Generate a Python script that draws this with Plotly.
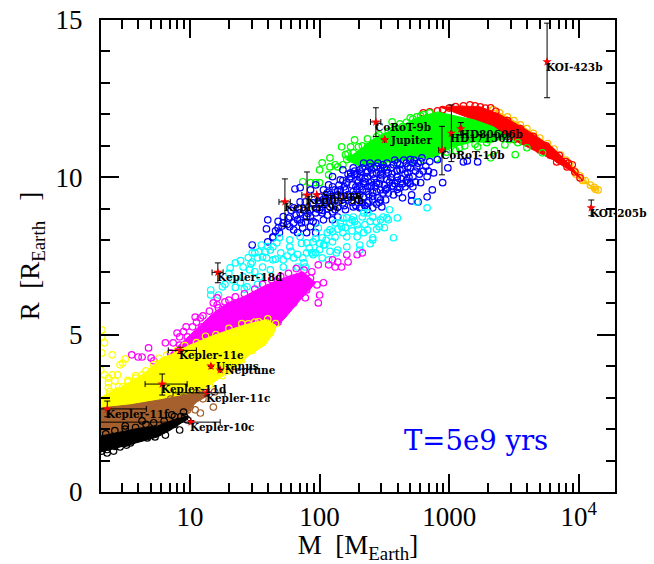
import plotly.graph_objects as go
import numpy as np

# Mass is read as log10(M / M_Earth); radius as R / R_Earth.
gold_core_lgM = [3.34,3.45,3.55,3.65,3.76,3.86,3.93,4.01,4.09,4.15,4.12,4.03,3.93,3.78]
gold_core_R = [12.15,11.92,11.67,11.40,11.07,10.71,10.4,10.05,9.75,9.6,9.6,9.9,10.25,10.7]
gold_lgM = [3.34,3.45,3.55,3.65,3.76,3.86,3.93,4.01,4.09,4.15,3.39,3.50,3.60,3.70,3.81,3.90,3.97,4.05,4.12,4.13,3.98,4.03]
gold_R = [12.15,11.92,11.67,11.40,11.07,10.71,10.4,10.05,9.75,9.6,12.05,11.8,11.55,11.25,10.9,10.55,10.2,9.9,9.68,9.62,10.1,9.9]

red_core_lgM = [2.93,3.08,3.24,3.39,3.60,3.80,3.93,4.03,3.96,3.80,3.60,3.39,3.19,3.03]
red_core_R = [12.21,12.27,12.24,12.0,11.5,10.95,10.4,9.9,10.15,10.56,10.97,11.41,11.83,12.08]
red_lgM = [2.80,2.85,2.91,2.95,3.11,3.24,3.60,3.83,3.91,3.97,4.01,3.95,3.39,3.51,3.70,3.16,3.32,3.30,3.35,3.45,3.50,3.57,3.65,3.72,3.78,3.85,3.90,3.0,3.05,3.20,3.28,3.36,3.45,3.55,3.65,3.75,3.85,3.92]
red_R = [12.05,12.08,12.11,12.15,12.27,12.24,11.13,10.49,10.33,10.17,9.98,10.40,11.57,11.35,10.87,12.30,12.21,11.55,11.4,11.3,11.2,11.15,11.05,10.9,10.7,10.55,10.5,12.2,12.25,12.27,12.2,12.1,11.8,11.55,11.3,11.0,10.7,10.45]

green_core_lgM = [2.20,2.31,2.44,2.62,2.75,2.91,3.08,3.19,3.34,3.45,3.32,3.19,3.03,2.88,2.68,2.47,2.31]
green_core_R = [10.56,10.87,11.29,11.61,11.89,12.08,11.92,11.83,11.61,11.29,11.10,11.13,10.97,10.65,10.56,10.46,10.33]
green_lgM = [1.87,1.93,1.97,2.0,2.02,2.0,2.07,2.08,2.14,2.17,2.24,2.26,2.30,2.37,2.37,2.44,2.56,2.57,2.64,2.70,2.75,2.80,3.22,3.32,3.43,3.53,3.51,3.60,3.72,3.29,3.08,2.21,2.34,2.27,2.20,2.12,2.08,
             2.18,2.22,2.25,2.30,2.33,2.40,2.46,2.50,2.53,2.60,2.62,2.67,2.72,2.78,2.85,2.40,2.50,2.60,2.70,2.80,2.90,2.98,3.05,3.12,3.2,3.3,3.35,3.40,3.47]
green_R = [9.86,9.83,9.83,9.83,10.46,10.24,10.08,10.33,10.33,10.97,10.97,10.78,10.97,11.22,10.97,11.29,11.76,11.51,11.61,11.89,11.92,11.99,10.97,10.62,11.03,11.10,10.72,10.94,10.78,11.10,10.94,10.56,10.65,11.19,10.72,10.40,10.62,
           10.4,10.75,10.6,10.5,11.0,11.0,11.35,11.15,11.45,11.55,11.7,11.75,11.85,11.95,12.05,10.4,10.35,10.45,10.5,10.55,10.6,10.8,10.85,11.0,11.05,11.2,10.85,11.3,11.2]

blue_lgM = [1.60,1.59,1.64,1.68,1.72,1.77,1.80,1.85,1.81,1.85,1.89,1.93,1.97,2.03,2.07,2.10,2.18,2.24,2.31,2.39,2.49,2.60,2.70,2.79,2.91,3.11,3.14,3.22,2.99,2.95,2.87,2.83,2.76,2.71,2.71,2.64,2.61,2.62,2.72,2.78,2.83,2.88,2.72,2.68,2.57,2.51,2.48,2.41,2.37,2.31,2.26,2.20,2.14,2.10,2.03,1.97,1.87,1.80,1.85,1.93,2.00,2.08,2.12,2.06,2.16,2.21,2.29,2.37,2.44,2.52,2.62,2.68,2.75,2.37,2.44,2.52,2.60,2.29,2.34,2.41,2.47,2.24,2.18,2.37,2.47,2.31,2.24,2.16,2.10,2.00,1.95,1.80,1.48,1.60,1.64,1.69,1.77,1.83,1.90,1.97,1.93,1.86,2.20,2.25,2.35,2.40,2.48,2.56,2.66,2.22,2.27,2.33,2.41,2.51,2.56,2.27,2.32,2.40,2.47,2.14,2.08,2.04,2.12,2.02,1.93,1.85,1.89,1.97,
            2.12,2.15,2.18,2.22,2.26,2.29,2.33,2.36,2.39,2.42,2.45,2.48,2.52,2.55,2.58,2.62,2.65,2.68,2.72,2.74,2.78,2.82,2.85,2.26,2.30,2.33,2.35,2.38,2.40,2.43,2.45,2.47,2.50,2.53,2.55,2.58,2.60,2.63,2.66,2.69,2.74,2.77,2.10,2.06,2.0,2.03,1.98,2.14,2.17,2.25,2.30,2.32,2.38,2.44,1.90,1.95,1.88,1.78,1.72,1.82,1.75,1.68,
            2.14,2.19,2.23,2.27,2.31,2.34,2.37,2.41,2.44,2.47,2.50,2.53,2.57,2.60,2.64,2.67,2.70,2.73,2.76,2.80,2.84,2.22,2.28,2.31,2.34,2.36,2.39,2.42,2.44,2.46,2.49,2.52,2.54,2.57,2.60,2.64,2.67,2.70,2.28,2.35,2.41,2.46,2.19,2.08,2.05,1.99,2.02,2.06,2.10,1.91,1.84,1.83,1.76,1.71,1.66]
blue_R = [8.65,8.36,8.11,8.39,8.55,8.74,9.03,9.22,9.63,9.67,9.22,9.60,9.76,9.60,9.76,10.02,10.24,10.14,10.24,10.33,10.40,10.46,10.56,10.62,10.56,10.49,10.52,10.49,10.30,9.83,9.60,9.38,9.22,9.25,9.44,9.35,9.51,9.67,9.70,9.83,10.02,10.14,10.02,9.83,9.44,9.28,9.06,9.03,8.97,9.03,9.06,8.97,8.74,8.65,8.65,8.55,8.39,8.33,8.65,8.74,8.97,9.06,9.28,9.51,9.60,9.83,9.92,10.02,10.14,10.24,10.24,10.33,10.33,9.70,9.83,9.92,10.02,9.60,9.38,9.51,9.60,9.38,9.19,9.19,9.28,9.70,10.02,9.92,9.70,9.38,9.19,8.55,7.85,7.95,8.08,8.24,8.43,8.24,8.24,8.24,8.43,8.55,9.60,9.76,9.86,9.73,10.05,10.11,10.11,9.28,9.44,9.19,9.28,9.60,9.73,10.08,10.17,10.24,10.30,9.44,9.38,9.19,8.97,8.87,8.97,8.87,8.58,8.87,
          9.6,9.75,9.9,10.1,10.3,10.1,10.3,10.15,10.45,10.3,10.45,10.2,10.45,10.3,10.55,10.4,10.55,10.15,10.45,10.2,10.5,10.35,10.5,9.55,9.85,9.6,9.95,9.45,9.85,9.7,9.35,9.95,9.75,9.5,10.0,9.8,9.62,9.95,9.7,10.0,9.85,10.1,9.25,9.0,9.15,9.3,9.0,9.05,9.35,9.2,9.3,9.05,9.25,9.15,8.75,8.6,8.95,8.95,8.75,8.8,8.5,8.6,
          9.55,9.7,9.95,10.2,10.0,10.45,10.2,10.1,10.35,10.1,10.3,10.15,10.4,10.2,10.25,10.45,10.3,10.55,10.45,10.2,10.2,9.45,9.7,9.45,9.8,9.55,9.7,9.95,9.55,9.8,9.5,9.65,9.85,9.7,9.9,9.8,9.9,9.8,9.1,9.1,9.4,9.2,9.1,9.45,9.25,9.25,8.95,8.8,8.9,8.85,9.0,8.65,8.7,8.45,8.3]

cyan_lgM = [1.16,1.16,1.22,1.31,1.35,1.39,1.41,1.48,1.50,1.53,1.58,1.62,1.67,1.69,1.77,1.85,1.90,1.95,2.02,2.06,2.10,2.16,2.21,2.26,2.34,2.41,2.47,2.52,1.52,1.56,1.64,1.72,1.80,1.87,1.89,1.95,2.02,2.07,2.14,2.21,2.31,2.39,2.41,2.29,2.21,2.10,2.04,1.97,1.41,1.33,1.25,1.46,1.39,1.44,1.54,1.62,1.72,1.83,1.56,1.59,1.48,1.64,1.77,2.25,2.29,2.33,2.37,2.41,2.44,2.49,2.53,2.60,2.54,2.46,2.37,2.34,2.57,2.41,2.31,2.13,2.08,2.17,2.18,2.03,1.94,1.88,1.99,2.75,2.83,
            1.45,1.55,1.60,1.70,1.75,1.78,1.83,1.90,1.92,1.97,2.0,2.05,2.12,2.14,2.20,2.25,2.27,2.30,2.35,2.39,2.23,2.18,2.12,2.44,2.5,1.50,1.47,1.30,1.27,1.35,1.42,1.52,1.66,1.86,2.08,2.00]
cyan_R = [6.42,6.26,6.26,7.12,7.28,7.35,7.15,7.31,7.60,7.63,7.63,7.69,7.92,8.08,8.01,8.11,7.92,7.95,8.08,8.24,8.27,8.55,8.71,8.74,8.87,8.74,8.65,8.71,7.44,7.15,7.38,7.38,7.44,7.44,7.15,7.54,7.44,7.38,7.69,7.79,7.69,7.89,8.08,8.11,8.11,7.95,7.85,7.60,6.84,6.74,6.52,7.06,6.65,6.52,6.84,7.06,7.15,7.15,7.47,7.44,7.60,7.79,7.79,8.65,8.49,8.74,8.87,8.74,8.58,8.74,8.65,8.71,8.97,8.43,8.33,8.24,8.08,8.01,7.85,7.60,8.33,8.43,8.24,7.85,7.60,7.28,8.39,9.22,9.03,
          7.45,7.85,7.8,7.6,7.5,7.65,7.55,7.6,7.75,8.05,7.9,8.0,8.1,8.35,8.4,8.3,8.6,8.35,8.5,8.6,8.55,8.7,8.55,8.35,8.4,7.0,7.25,6.95,6.6,6.5,6.45,6.6,7.4,7.9,7.65,7.7]

magenta_core_lgM = [.81,.96,1.08,1.19,1.29,1.41,1.59,1.75,1.87,1.97,1.85,1.72,1.64,1.39,1.08,.85]
magenta_core_R = [4.26,4.83,5.31,5.72,6.01,6.20,6.58,6.84,7.0,6.65,6.10,5.47,5.15,4.83,4.52,4.2]
magenta_lgM = [.55,.60,.63,.68,.70,.72,.81,.87,.92,.92,.97,1.02,.98,1.04,1.09,.85,1.94,1.99,2.07,2.14,2.03,1.98,2.0,1.99,1.83,1.90,1.89,1.80,1.21,1.21,1.18,1.27,1.18,1.17,2.21,2.29,2.33,2.22,2.10,2.17,2.12,1.04,1.08,
               .90,.95,1.05,1.10,1.15,1.22,1.30,1.35,1.42,1.50,1.56,1.63,1.70,1.76,1.82,1.88,1.93,1.90,1.85,1.78,1.72,1.68,1.75,1.80]
magenta_R = [4.36,4.29,4.29,4.58,4.26,4.17,4.74,4.74,4.67,4.93,5.25,5.25,4.93,4.99,5.25,4.42,7.0,7.22,7.22,7.31,6.65,6.58,6.26,6.01,6.65,6.42,6.17,6.01,6.17,5.95,6.01,6.04,5.53,5.25,7.54,7.54,7.60,7.31,7.38,7.15,7.15,5.56,5.53,
             5.05,5.1,5.4,5.6,5.75,5.85,6.1,6.2,6.3,6.45,6.6,6.75,6.85,6.95,7.1,7.05,6.8,6.65,6.3,5.95,5.65,5.4,6.0,6.2]

yellow_core_lgM = [.31,.34,.50,.65,.78,.85,1.0,1.19,1.42,1.58,1.66,1.66,1.58,1.46,1.35,1.23,1.08,.92,.69,.46,.31]
yellow_core_R = [2.99,3.08,3.40,3.78,4.26,4.36,4.67,4.99,5.31,5.47,5.31,5.15,4.67,4.36,3.94,3.62,3.18,2.99,2.77,2.61,2.61]
yellow_lgM = [.32,.34,.40,.46,.50,.48,.34,.40,.44,.37,.42,.37,.52,.58,.37,.44,.48,.32,.32,.31,.63,1.53,1.45,1.59,
              .38,.45,.52,.58,.66,.72,.76,.82,.90,.96,1.05,1.12,1.2,1.3,1.4,1.5,1.6,1.66,1.62,1.55,1.48,1.40,1.30,1.25,1.15]
yellow_R = [5.15,4.74,4.36,4.04,4.23,4.10,3.72,3.72,3.72,3.62,3.53,3.47,3.50,3.62,3.31,3.21,3.34,4.93,4.42,3.88,3.72,5.41,5.34,5.37,
            3.2,3.35,3.55,3.7,3.85,4.05,4.25,4.35,4.5,4.65,4.75,4.95,5.0,5.2,5.35,5.4,5.5,5.35,5.05,4.8,4.5,4.2,3.85,3.7,3.4]

brown_core_lgM = [.31,.54,.77,.92,1.04,1.12,1.12,1.04,.96,.85,.69,.54,.31]
brown_core_R = [2.67,2.77,2.93,3.05,3.12,3.15,3.02,2.83,2.38,2.16,1.97,1.81,1.65]
brown_lgM = [1.08,1.18,1.10,1.0,1.08,.92,1.19,1.04,1.12,1.05,1.0,.95,.85,1.02,.98,.88,.8]
brown_R = [2.51,2.70,2.96,2.70,3.08,2.38,3.18,2.61,3.15,3.15,3.05,3.0,2.95,2.9,2.6,2.35,2.2]

black_core_lgM = [.31,.46,.61,.75,.85,.98,.98,.85,.75,.61,.46,.31]
black_core_R = [1.78,1.91,2.03,2.10,2.26,2.42,2.32,1.97,1.75,1.59,1.43,1.27]
black_lgM = [.92,.95,.86,.96,.98,.81,.73,.67,.60,.55,.51,.46,.41,.36,.48,.50,.63,.54,.36,.33,
             .35,.42,.5,.58,.66,.72,.80,.88,.93,.82,.75,.68,.6,.5,.42,.36,.32,.88]
black_R = [1.97,2.54,2.45,2.38,2.29,1.81,1.75,1.72,1.72,1.62,1.49,1.43,1.30,1.24,1.75,2.10,2.26,1.56,1.56,1.40,
           1.85,1.95,2.0,2.05,2.15,2.2,2.25,2.4,2.4,2.05,1.9,1.85,1.7,1.55,1.45,1.35,1.3,2.15]

planet_names = ["KOI-423b","KOI-205b","HD80606b","HD17156b","CoRoT-10b","CoRoT-9b","Jupiter","Saturn","Kepler-9b","Kepler-9c","Kepler-18d","Kepler-11e","Uranus","Neptune","Kepler-11d","Kepler-11c","Kepler-11f","Kepler-10c"]
planet_M = [5700,12500,1230,1040,880,272,318,95,80,54,16.4,8.4,14.5,17.1,6.1,13.5,2.3,10.2]
planet_R = [13.67,9.03,11.54,11.4,10.87,11.76,11.2,9.45,9.44,9.22,6.98,4.5,4.0,3.88,3.43,3.15,2.64,2.22]
planet_M_plus = [0,0,20,10,50,25,0,0,7,5.4,1.6,2.8,0,0,3.4,5.1,2.3,6.9]
planet_M_minus = [0,0,20,10,50,25,0,0,7,5.4,1.6,1.6,0,0,1.6,6.1,1.3,8.2]
planet_R_plus = [1.23,0.25,0.2,0.9,0.75,0.45,0,0,0.73,0.73,0.3,0.1,0,0,0.32,0.1,0.25,0.05]
planet_R_minus = [1.14,0.25,0.2,0.9,0.79,0.46,0,0,0.79,0.79,0.33,0.1,0,0,0.35,0.1,0.25,0.05]
solar_planets = {"Jupiter","Saturn","Uranus","Neptune"}

x_major = [10,100,1000,10000]
x_major_text = ["10","100","1000","10<sup>4</sup>"]
y_major = [0,5,10,15]
note = "T=5e9 yrs"

fig = go.Figure()
def M(v):
    return 10**np.array(v)

def core(xv, yv, c):
    fig.add_trace(go.Scatter(x=M(xv), y=yv, mode="lines", fill="toself", fillcolor=c,
                             line=dict(color=c, width=1), hoverinfo="skip", showlegend=False))
def ring(xv, yv, c):
    fig.add_trace(go.Scatter(x=M(xv), y=yv, mode="markers", showlegend=False,
                             marker=dict(symbol="circle-open", size=6.5, color=c, line=dict(width=1.2, color=c))))

GOLD, RED, GREEN, BLUE, CYAN, MAG, YEL, BRN = "#ffc000", "#ff0000", "#00ff00", "#0000ff", "#00ffff", "#ff00ff", "#ffff00", "#a5602e"
core(gold_core_lgM, gold_core_R, GOLD); ring(gold_lgM, gold_R, GOLD)
core(red_core_lgM, red_core_R, RED); ring(red_lgM, red_R, RED)
core(green_core_lgM, green_core_R, GREEN); ring(green_lgM, green_R, GREEN)
ring(blue_lgM, blue_R, BLUE)
ring(cyan_lgM, cyan_R, CYAN)
core(magenta_core_lgM, magenta_core_R, MAG); ring(magenta_lgM, magenta_R, MAG)
core(yellow_core_lgM, yellow_core_R, YEL); ring(yellow_lgM, yellow_R, YEL)
core(brown_core_lgM, brown_core_R, BRN); ring(brown_lgM, brown_R, BRN)
core(black_core_lgM, black_core_R, "#000000"); ring(black_lgM, black_R, "#000000")

fig.add_trace(go.Scatter(x=planet_M, y=planet_R, mode="markers", showlegend=False, text=planet_names,
    marker=dict(symbol="star", size=7, color="#ff0000"),
    error_x=dict(type="data", symmetric=False, array=planet_M_plus, arrayminus=planet_M_minus, color="black", thickness=1, width=3),
    error_y=dict(type="data", symmetric=False, array=planet_R_plus, arrayminus=planet_R_minus, color="black", thickness=1, width=3)))

for name, m, r in zip(planet_names, planet_M, planet_R):
    solar = name in solar_planets
    fig.add_annotation(x=float(np.log10(m)), y=r, text=name, showarrow=False, xanchor="left", yanchor="middle",
                       xshift=3 if solar else -3, yshift=0 if solar else -5,
                       font=dict(family="DejaVu Serif", size=10.5, color="black", weight="bold"))

fig.add_annotation(xref="paper", yref="paper", x=0.586, y=0.11, text=note, showarrow=False, xanchor="left", yanchor="middle",
                   font=dict(family="DejaVu Serif", size=27.5, color="#0000ff"))

axis_font = dict(family="Liberation Serif", size=27, color="black")
fig.update_layout(
    width=654, height=564, margin=dict(l=101, r=39, t=20, b=72), paper_bgcolor="white", plot_bgcolor="white",
    showlegend=False,
    xaxis=dict(type="log", range=[0.313, 4.28], automargin=False, tickmode="array", tickvals=x_major, ticktext=x_major_text,
               ticks="inside", ticklen=18, tickwidth=2, tickcolor="black", showgrid=False, zeroline=False,
               showline=True, linewidth=2, linecolor="black", mirror="allticks", tickfont=axis_font,
               minor=dict(dtick="D1", ticks="inside", ticklen=9, tickwidth=1.5, tickcolor="black", showgrid=False),
               title=dict(text="M  [M<sub>Earth</sub>]", font=axis_font, standoff=0)),
    yaxis=dict(range=[0, 15], automargin=False, tickmode="array", tickvals=y_major,
               ticks="inside", ticklen=18, tickwidth=2, tickcolor="black", showgrid=False, zeroline=False,
               showline=True, linewidth=2, linecolor="black", mirror="allticks", tickfont=axis_font, ticklabelstandoff=11,
               minor=dict(dtick=1, ticks="inside", ticklen=9, tickwidth=1.5, tickcolor="black", showgrid=False),
               title=dict(text="R  [R<sub>Earth</sub>   ]", font=axis_font, standoff=8)),
)
fig.write_html("out.html", post_script="document.body.style.margin='0';", config=dict(displayModeBar=False))
